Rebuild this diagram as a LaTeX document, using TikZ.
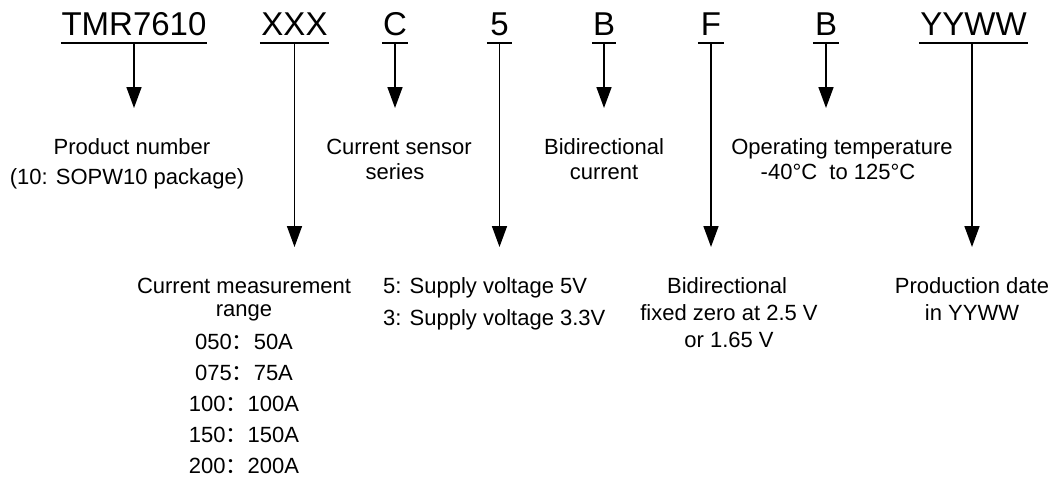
\documentclass[tikz,border=0pt]{standalone}
\usepackage{fontspec}
\setmainfont{Liberation Sans}
\newfontfamily\cjk{Noto Sans CJK SC}
\usetikzlibrary{arrows.meta}
\begin{document}
\begin{tikzpicture}[x=1pt,y=-1pt,
  code/.style={anchor=base,inner sep=0pt,text depth=0pt,font=\fontsize{33}{38}\selectfont},
  lbl/.style={anchor=base,inner sep=0pt,font=\fontsize{22}{26}\selectfont},
  lblw/.style={lbl,anchor=base west},
  uline/.style={line width=1.8pt},
  arr/.style={line width=1.6pt,-{Triangle[length=21pt,width=15pt]}}]
\useasboundingbox (0,0) rectangle (1058,477);
% codes
\node[code,minimum width=146pt] (tmr) at (134,35) {TMR7610};
\node[code,minimum width=69pt] (xxx) at (294.5,35) {XXX};
\node[code,minimum width=26pt] (c) at (395,35) {C};
\node[code,minimum width=25pt] (five) at (499.5,35) {5};
\node[code,minimum width=24pt] (b1) at (604,35) {B};
\node[code,minimum width=26pt] (f) at (711,35) {F};
\node[code,minimum width=26pt] (b2) at (826,35) {B};
\node[code,minimum width=109pt] (yyww) at (973.5,35) {YYWW};
\foreach \n in {tmr,xxx,c,five,b1,f,b2,yyww}{
  \draw[uline] ([yshift=-8pt]\n.base west) -- ([yshift=-8pt]\n.base east);
}
% arrow ends
\coordinate (etmr) at (134,108);
\coordinate (exxx) at (294.5,247);
\coordinate (ec) at (395,108);
\coordinate (efive) at (499.5,247);
\coordinate (eb1) at (604,108);
\coordinate (ef) at (711,247);
\coordinate (eb2) at (826,108);
\coordinate (eyyww) at (972,247);
\draw[arr] ([yshift=-8pt]tmr.base) -- (etmr);
\draw[arr] ([yshift=-8pt]xxx.base) -- (exxx);
\draw[arr] ([yshift=-8pt]c.base) -- (ec);
\draw[arr] ([yshift=-8pt]five.base) -- (efive);
\draw[arr] ([yshift=-8pt]b1.base) -- (eb1);
\draw[arr] ([yshift=-8pt]f.base) -- (ef);
\draw[arr] ([yshift=-8pt]b2.base) -- (eb2);
\draw[arr] ([yshift=-8pt,xshift=-1.5pt]yyww.base) -- (eyyww);
% row 1 labels
\node[lbl] (pn1) at (132,154) {Product number};
\node[lbl] (pn2) at (127,184) {(10: SOPW10 package)};
\node[lbl] (cs1) at (399,154) {Current sensor};
\node[lbl] (cs2) at (395,179) {series};
\node[lbl] (bd1) at (604,154) {Bidirectional};
\node[lbl] (bd2) at (604,179) {current};
\node[lbl] (ot1) at (842,154) {Operating temperature};
\node[lbl] (ot2) at (838,179) {-40°C\ \ to 125°C};
% row 2 labels
\node[lbl] (cm1) at (244,293) {Current measurement};
\node[lbl] (cm2) at (244,316) {range};
\node[lbl] (r1) at (244,349) {050{\cjk ：}50A};
\node[lbl] (r2) at (244,380) {075{\cjk ：}75A};
\node[lbl] (r3) at (244,411) {100{\cjk ：}100A};
\node[lbl] (r4) at (244,442) {150{\cjk ：}150A};
\node[lbl] (r5) at (244,473) {200{\cjk ：}200A};
\node[lblw] (sv1) at (383,293) {5: Supply voltage 5V};
\node[lblw] (sv2) at (383,325) {3: Supply voltage 3.3V};
\node[lbl] (fz1) at (727,293) {Bidirectional};
\node[lbl] (fz2) at (729,320) {fixed zero at 2.5 V};
\node[lbl] (fz3) at (729,347) {or 1.65 V};
\node[lbl] (pd1) at (972,293) {Production date};
\node[lbl] (pd2) at (972,320) {in YYWW};
\end{tikzpicture}
\end{document}
